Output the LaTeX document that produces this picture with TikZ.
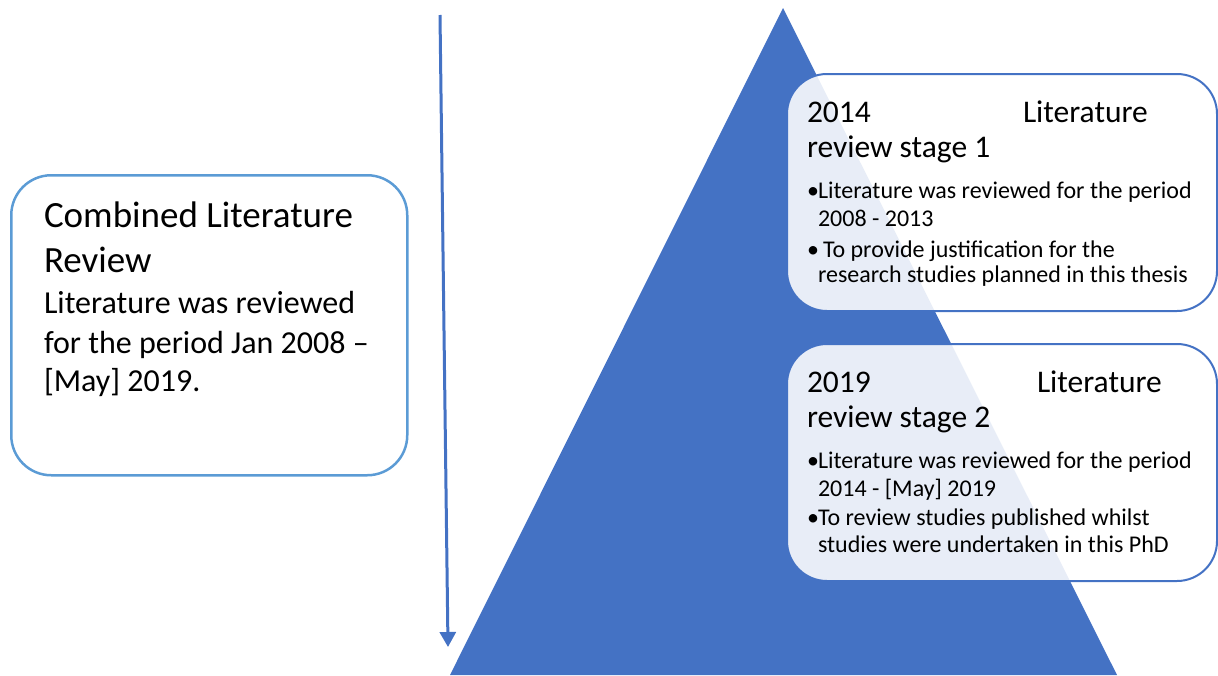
\documentclass[tikz,border=0pt]{standalone}
\usepackage{fontspec}
\setmainfont{Carlito}
\usetikzlibrary{arrows.meta}
\definecolor{accent}{HTML}{4472C4}
\definecolor{lightframe}{HTML}{5B9BD5}
\begin{document}
\begin{tikzpicture}[x=1pt,y=-1pt,
  txt/.style={anchor=base west, inner sep=0pt, outer sep=0pt, text=black},
  title/.style={txt, font=\fontsize{37}{44}\selectfont},
  body/.style={txt, font=\fontsize{32}{40}\selectfont},
  head/.style={txt, font=\fontsize{31.5}{35}\selectfont},
  item/.style={txt, font=\fontsize{24}{28}\selectfont},
  panel/.style={draw=lightframe, line width=2.5pt, rounded corners=40pt, anchor=north west, inner sep=0pt},
  stagebox/.style={draw=accent, line width=2pt, fill=white, fill opacity=0.88, rounded corners=40pt, anchor=north west, inner sep=0pt}
]
\useasboundingbox (0,0) rectangle (1218,675);

% the pyramid
\coordinate (apex) at (783,8);
\coordinate (baseR) at (1117,675);
\coordinate (baseL) at (450,675);
\fill[accent] (apex) -- (baseR) -- (baseL) -- cycle;

% time arrow
\coordinate (arrtop) at (440,15);
\coordinate (arrtip) at (448,647);
\draw[accent, line width=3pt, -{Triangle[length=15pt,width=16pt]}] (arrtop) -- (arrtip);

% combined review panel
\node[panel, minimum width=396pt, minimum height=300pt] (combined) at (10,174) {};
\node[title] (cA) at (44,227) {Combined Literature};
\node[title] (cB) at (44,272) {Review};
\node[body] (cC) at (44,313) {Literature was reviewed};
\node[body] (cD) at (44,353) {for the period Jan 2008 –};
\node[body] (cE) at (44,391) {[May] 2019.};

% stage 1
\node[stagebox, minimum width=430pt, minimum height=237pt] (stageone) at (786,73) {};
\node[head] (sA) at (807,122) {2014};
\node[head] (sB) at (1023,122) {Literature};
\node[head] (sC) at (807,157) {review stage 1};
\node[item] (sD) at (807,198) {•};
\node[item] (sE) at (818,198) {Literature was reviewed for the period};
\node[item] (sF) at (818,226) {2008 - 2013};
\node[item] (sG) at (807,257) {•};
\node[item] (sH) at (823,257) {To provide justification for the};
\node[item] (sI) at (818,282) {research studies planned in this thesis};

% stage 2
\node[stagebox, minimum width=430pt, minimum height=237pt] (stagetwo) at (786,343) {};
\node[head] (tA) at (807,392) {2019};
\node[head] (tB) at (1037,392) {Literature};
\node[head] (tC) at (807,427) {review stage 2};
\node[item] (tD) at (807,468) {•};
\node[item] (tE) at (818,468) {Literature was reviewed for the period};
\node[item] (tF) at (818,496) {2014 - [May] 2019};
\node[item] (tG) at (807,525) {•};
\node[item] (tH) at (818,525) {To review studies published whilst};
\node[item] (tI) at (818,552) {studies were undertaken in this PhD};
\end{tikzpicture}
\end{document}
